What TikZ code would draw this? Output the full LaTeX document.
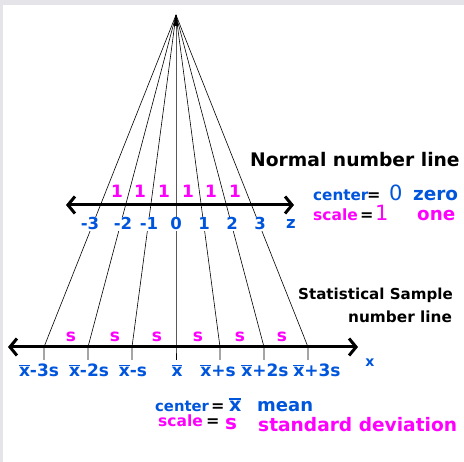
\documentclass[tikz,border=0pt]{standalone}
\usepackage{fontspec}
\setmainfont{DejaVu Sans}
\usetikzlibrary{arrows.meta}
\definecolor{cblue}{RGB}{0,85,221}
\definecolor{cmag}{RGB}{255,0,255}
\definecolor{bord}{RGB}{228,228,233}
\newcommand\xb{\vbox{\hrule height 1.4pt\kern1.6pt\hbox{x}}}
\newcommand\fs[1]{\fontsize{#1}{#1}\selectfont}
\tikzset{
  ray/.style={line width=0.6pt, black},
  axisline/.style={line width=3pt, black, {Straight Barb[length=7pt,width=17pt]}-{Straight Barb[length=7pt,width=17pt]}, line join=round, line cap=round},
  toplab/.style={anchor=base, fill=white, inner sep=1pt, text=cblue, font=\fs{16.5}\bfseries},
  botlab/.style={anchor=base, inner sep=0pt, text=cblue, font=\fs{17}\bfseries},
  unitlab/.style={anchor=base, inner sep=0pt, text=cmag, font=\fs{17}\bfseries},
  txt/.style={anchor=base west, inner sep=0pt},
  eq/.style={anchor=base west, inner sep=0pt, font=\fs{16}\bfseries},
}
\begin{document}
\begin{tikzpicture}[x=1pt,y=-1pt]
\fill[bord] (0,0) rectangle (464,462);
\fill[white] (3,5) rectangle (464,462);
\useasboundingbox (0,0) rectangle (464,462);

\coordinate (apex) at (176,15);
\fill (apex) -- (173.5,26) -- (178.5,26) -- cycle;

% rays and ticks
\foreach \k in {0,...,6} {
  \coordinate (b\k) at ({176+44*(\k-3)},347);
  \coordinate (t\k) at ({176+44*(\k-3)},360);
  \draw[ray] (apex) -- (b\k) -- (t\k);
}

% axes
\coordinate (tl) at (66,205);
\coordinate (tr) at (294,205);
\coordinate (bl) at (8,347);
\coordinate (br) at (358,347);
\draw[axisline] (tl) -- (tr);
\draw[axisline] (bl) -- (br);

% top labels
\node[toplab] (zm3) at (90,230) {-3};
\node[toplab] (zm2) at (123,230) {-2};
\node[toplab] (zm1) at (149,230) {-1};
\node[toplab] (z0) at (176,230) {0};
\node[toplab] (zp1) at (204,230) {1};
\node[toplab] (zp2) at (232,230) {2};
\node[toplab] (zp3) at (260,230) {3};
\node[toplab] (zz) at (291,229) {z};

\foreach \x [count=\i] in {117,140,164,188,211,235}
  \node[unitlab] (one\i) at (\x,198) {1};

% bottom unit labels
\foreach \x [count=\i] in {71,115,157,198,240,282}
  \node[unitlab] (s\i) at (\x,342) {s};

% bottom labels
\node[botlab] (xm3) at (39,377) {\xb-3s};
\node[botlab] (xm2) at (89,377) {\xb-2s};
\node[botlab] (xm1) at (133,377) {\xb-s};
\node[botlab] (x0) at (177,377) {\xb};
\node[botlab] (xp1) at (218,377) {\xb+s};
\node[botlab] (xp2) at (265,377) {\xb+2s};
\node[botlab] (xp3) at (317,377) {\xb+3s};
\node[botlab, font=\fs{14}\bfseries] (xx) at (370,367) {x};

% right texts
\node[txt, font=\fs{18.7}\bfseries] (title) at (250,167) {Normal number line};
\node[txt, text=cblue, font=\fs{15.2}\bfseries] (c1) at (313,201) {center};
\node[eq] (e1) at (367,201) {=};
\node[txt, text=cblue, font=\fs{21}] (zer) at (389,201) {0};
\node[txt, text=cblue, font=\fs{18.4}\bfseries] (zero) at (413,201) {zero};
\node[txt, text=cmag, font=\fs{15.5}\bfseries] (sc1) at (313,221) {scale};
\node[eq] (e2) at (360,221) {=};
\node[txt, text=cmag, font=\fs{21}] (on1) at (375,221) {1};
\node[txt, text=cmag, font=\fs{18.3}\bfseries] (one) at (417,221) {one};

\node[txt, font=\fs{15.1}\bfseries] (stat) at (298,300) {Statistical Sample};
\node[txt, font=\fs{15.3}\bfseries] (numl) at (348,323) {number line};

% bottom texts
\node[txt, text=cblue, font=\fs{14.8}\bfseries] (c2) at (155,411.5) {center};
\node[eq] (e3) at (211,411.5) {=};
\node[txt, text=cblue, font=\fs{19}\bfseries] (xbar) at (229,411.5) {\xb};
\node[txt, text=cblue, font=\fs{18}\bfseries] (mean) at (257,411.5) {mean};
\node[txt, text=cmag, font=\fs{15.5}\bfseries] (sc2) at (158,427) {scale};
\node[eq] (e4) at (206,427) {=};
\node[txt, text=cmag, font=\fs{20}\bfseries] (sS) at (225,430) {s};
\node[txt, text=cmag, font=\fs{18.6}\bfseries] (sd) at (258,432) {standard deviation};
\end{tikzpicture}
\end{document}
